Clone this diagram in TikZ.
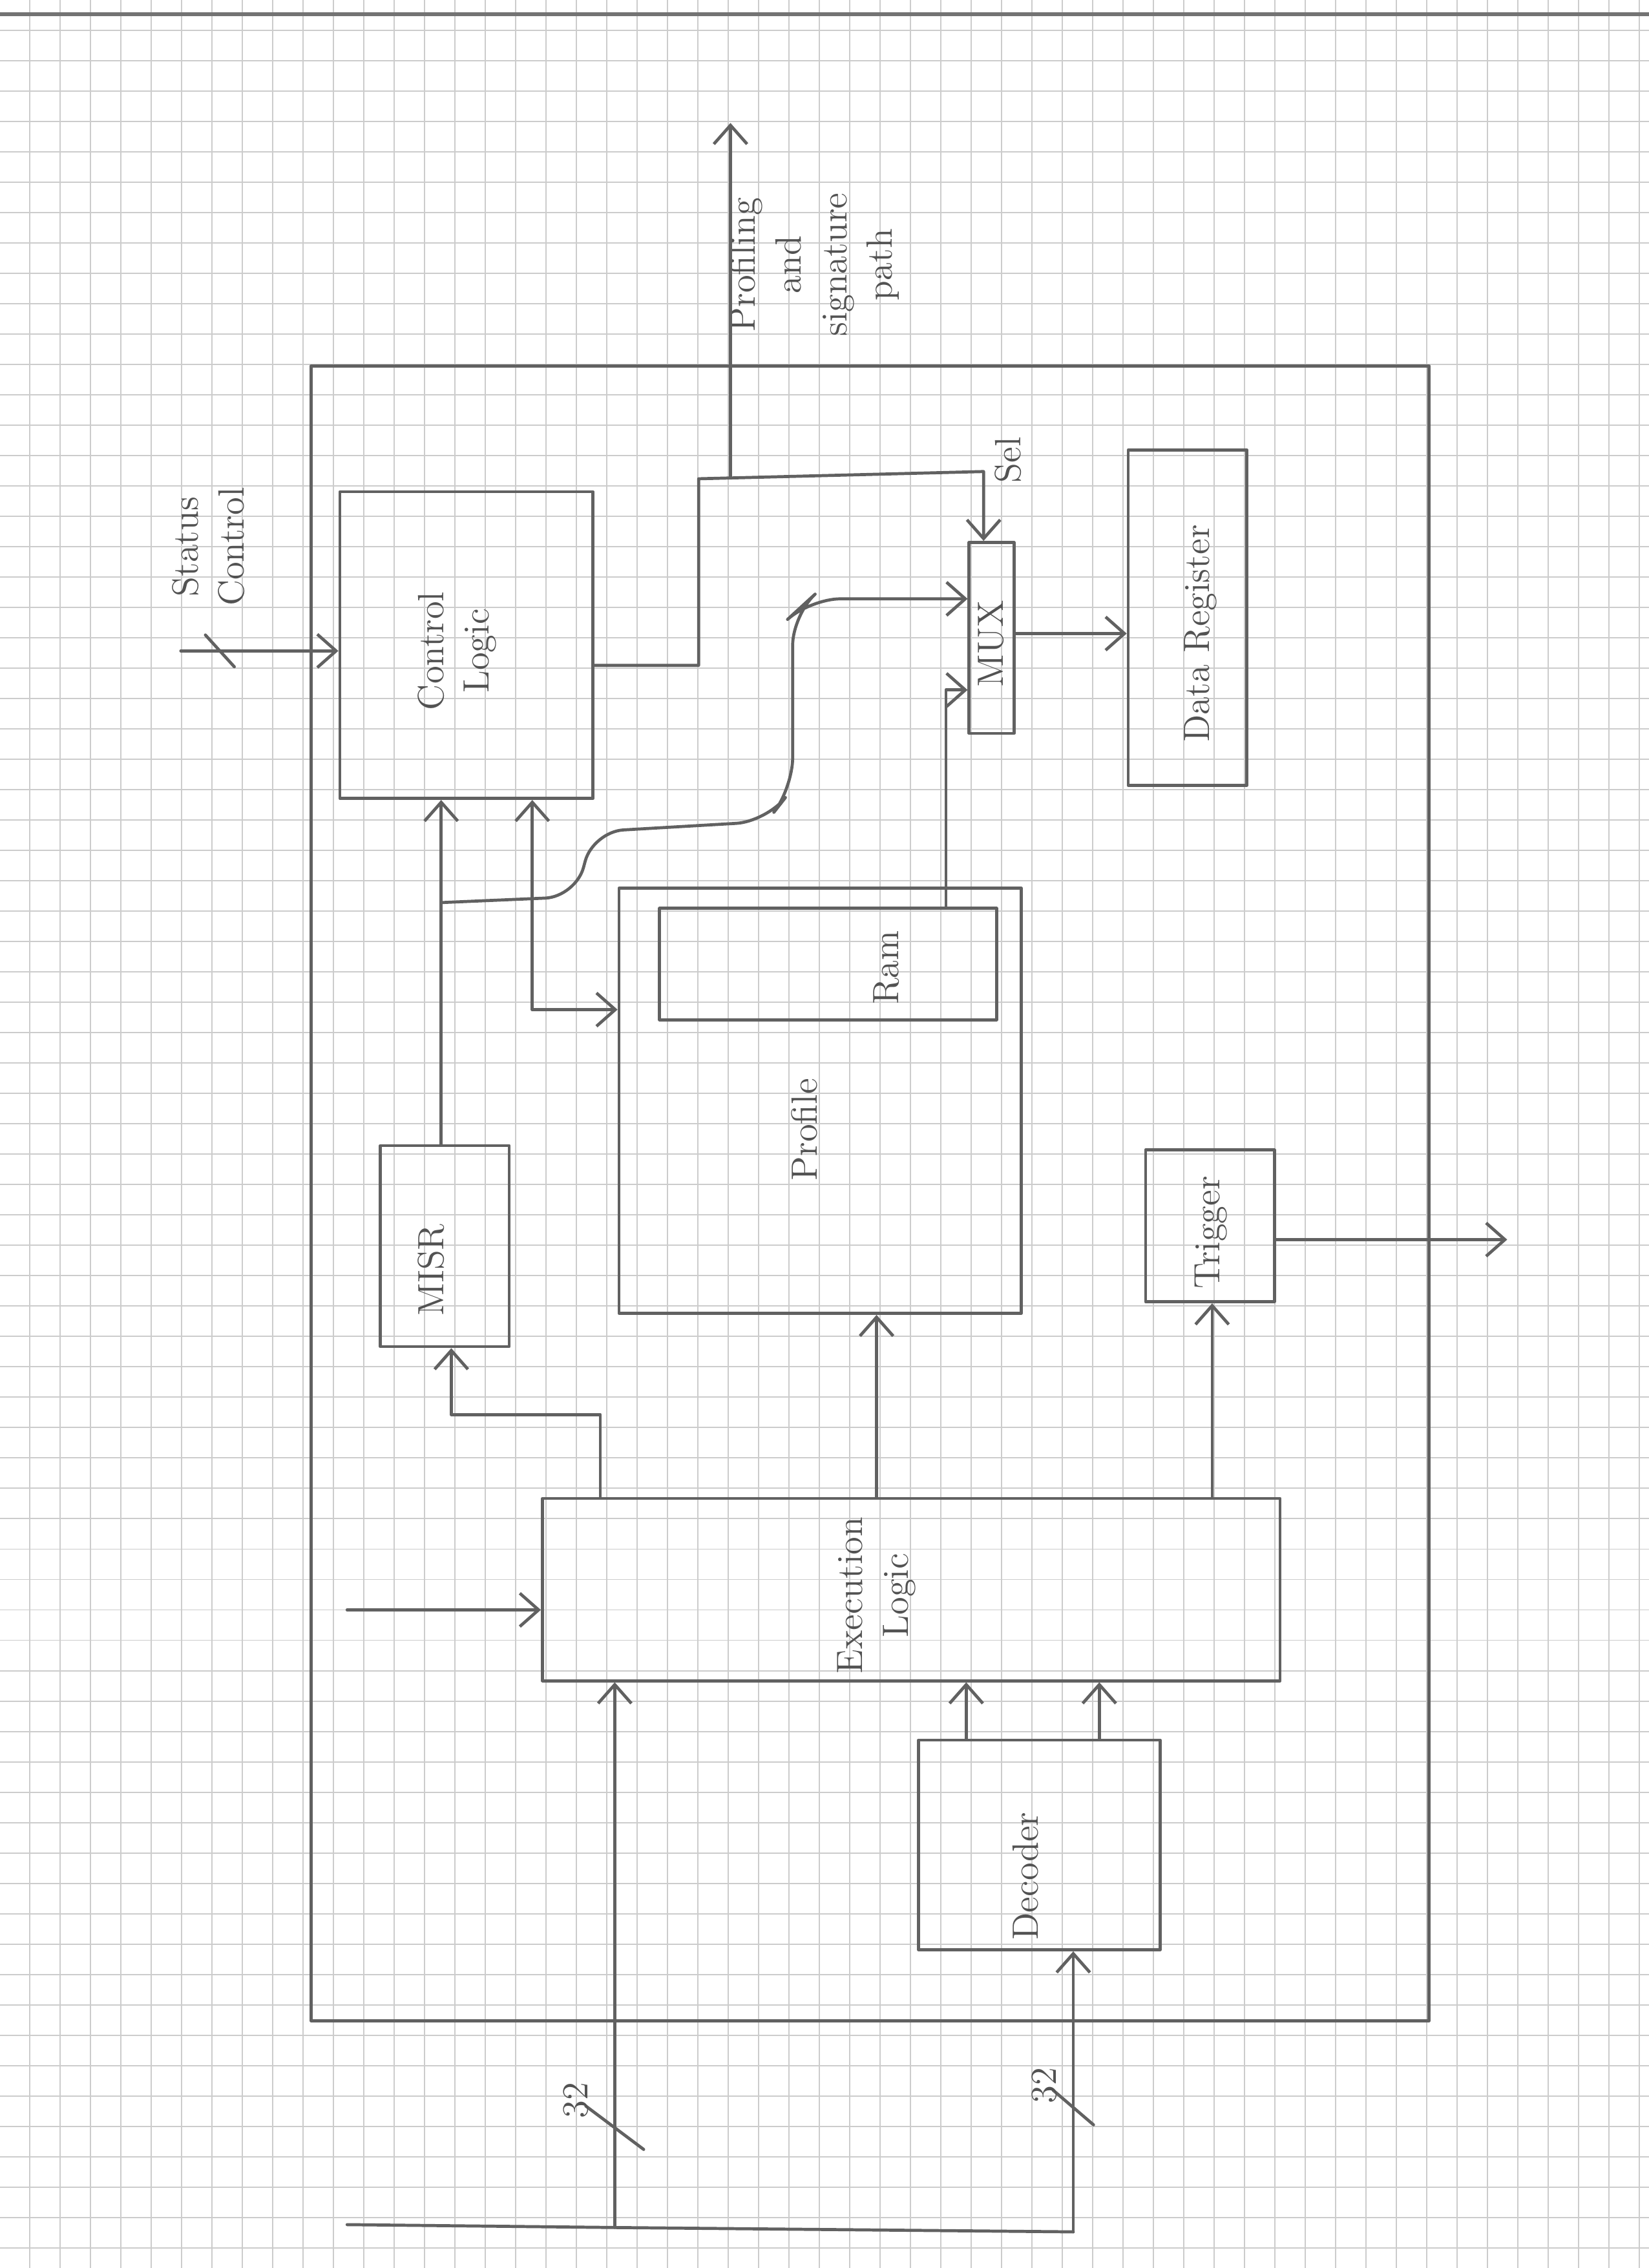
\documentclass[tikz,border=0pt]{standalone}
\usetikzlibrary{arrows.meta,calc,fit}
\begin{document}
\begin{tikzpicture}[x=0.02cm,y=-0.02cm,font=\Large,>={Straight Barb[length=2.6mm,width=4.6mm]},
  pen/.style={draw=black!62,line width=1.2pt,line cap=round,line join=round},
  blk/.style={pen,rectangle,inner sep=0pt},
  txt/.style={text=black!68,rotate=90,align=center,inner sep=1pt},
  wire/.style={pen,->},
  gridline/.style={draw=black!20,line width=0.5pt}]
  \useasboundingbox (0,0) rectangle (1140,1568);
  % paper
  \foreach \i in {0,...,53} \draw[gridline] ({20.5+21*\i},0) -- ({20.5+21*\i},1568);
  \foreach \j in {1,...,74} \draw[gridline] (0,{21*\j}) -- (1140,{21*\j});
  \draw[black!55,line width=1.5pt] (0,10) -- (1140,10);
  % blocks
  \node[blk,fit={(215,253) (988,1397)}] (chip) {};
  \node[blk,fit={(235,340) (410,552)}] (ctl) {};
  \node[blk,fit={(670,375) (701,507)}] (mux) {};
  \node[blk,fit={(780,311) (862,543)}] (dreg) {};
  \node[blk,fit={(428,614) (706,908)}] (prof) {};
  \node[blk,fit={(456,628) (689,705)}] (ram) {};
  \node[blk,fit={(263,792) (352,931)}] (misr) {};
  \node[blk,fit={(792,795) (881,900)}] (trig) {};
  \node[blk,fit={(375,1036) (885,1162)}] (exe) {};
  \node[blk,fit={(635,1203) (802,1348)}] (dec) {};
  % labels
  \node[txt] (ctltxt) at (316,450) {Control\\Logic};
  \node[txt] (muxtxt) at (685,445) {MUX};
  \node[txt] (seltxt) at (697,318) {Sel};
  \node[txt] (dregtxt) at (830,438) {Data Register};
  \node[txt] (ramtxt) at (613,669) {Ram};
  \node[txt] (proftxt) at (556,781) {Profile};
  \node[txt] (misrtxt) at (298,878) {MISR};
  \node[txt] (trigtxt) at (837,852) {Trigger};
  \node[txt] (exetxt) at (606,1103) {Execution\\Logic};
  \node[txt] (dectxt) at (709,1297) {Decoder};
  \node[txt] (sctxt) at (144,378) {Status\\Control};
  \node[txt] (pathtxt) at (563,183) {Profiling\\and\\signature\\path};
  % status control in
  \coordinate (scin) at (125,450);
  \coordinate (scbus) at (152,450);
  \draw[wire] (scin) -- (scin -| ctl.west);
  \draw[pen] ($(scbus)+(-10,-11)$) -- ($(scbus)+(10,11)$);
  % profiling and signature path
  \coordinate (pa) at (483,460);
  \coordinate (pb) at (483,331);
  \coordinate (pc) at (680,326);
  \coordinate (ptap) at (505,330);
  \coordinate (pout) at (505,85);
  \draw[wire] (ctl.east |- pa) -- (pa) -- (pb) -- (pc) -- (pc |- mux.north);
  \draw[wire] (ptap) -- (pout);
  % mux
  \coordinate (j1) at (305,624);
  \coordinate (m2) at (654,477);
  \draw[wire,rounded corners=12] (j1) -- (398,620) -- (410,575) -- (530,568) -- (548,545) -- (548,425) -- (560,414) -- (mux.west |- 0,414);
  \draw[wire] (ram.north -| m2) -- (m2) -- (m2 -| mux.west);
  \draw[wire] (mux.east |- 0,438) -- (dreg.west |- 0,438);
  % misr and profile to control
  \draw[wire] (misr.north -| 305,0) -- (ctl.south -| 305,0);
  \coordinate (k1) at (368,698);
  \draw[wire] (k1) -- (k1 -| prof.west);
  \draw[wire] (k1) -- (ctl.south -| k1);
  % execution logic outputs
  \coordinate (e1) at (415,978);
  \draw[wire] (exe.north -| e1) -- (e1) -- (e1 -| 312,0) -- (misr.south -| 312,0);
  \draw[wire] (exe.north -| 606,0) -- (prof.south -| 606,0);
  \draw[wire] (exe.north -| 838,0) -- (trig.south -| 838,0);
  \coordinate (tout) at (1042,857);
  \draw[wire] (trig.east |- tout) -- (tout);
  \coordinate (ein) at (240,1113);
  \draw[wire] (ein) -- (ein -| exe.west);
  % decoder
  \draw[wire] (dec.north -| 668,0) -- (exe.south -| 668,0);
  \draw[wire] (dec.north -| 760,0) -- (exe.south -| 760,0);
  % inputs
  \coordinate (ia) at (425,1540);
  \coordinate (ib) at (742,1543);
  \coordinate (ic) at (240,1538);
  \draw[wire] (ia) -- (exe.south -| ia);
  \draw[wire] (ib) -- (dec.south -| ib);
  \draw[pen] (ic) -- (ia) -- (ib);
  \draw[pen] ($(ia)+(-20,-84)$) -- ($(ia)+(20,-54)$);
  \draw[pen] ($(ib)+(-14,-98)$) -- ($(ib)+(14,-74)$);
  \node[txt] (iatxt) at (398,1452) {32};
  \node[txt] (ibtxt) at (722,1442) {32};
\end{tikzpicture}
\end{document}
